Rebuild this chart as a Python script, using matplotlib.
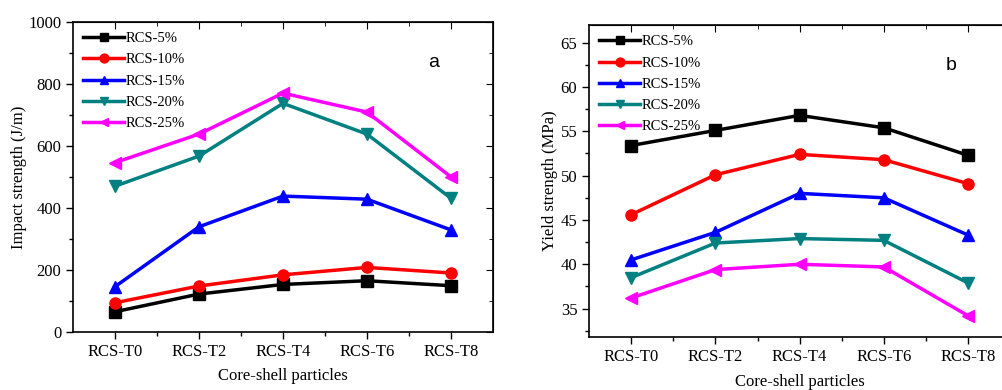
import matplotlib
matplotlib.use("Agg")
import matplotlib.pyplot as plt
from matplotlib.ticker import MultipleLocator, FixedLocator

plt.rcParams['font.family'] = ['Liberation Serif', 'DejaVu Serif']

categorias = ['RCS-T0', 'RCS-T2', 'RCS-T4', 'RCS-T6', 'RCS-T8']
series = ['RCS-5%', 'RCS-10%', 'RCS-15%', 'RCS-20%', 'RCS-25%']
cores = ['black', 'red', 'blue', '#008080', '#FF00FF']
marcadores = ['s', 'o', '^', 'v', '<']

impacto_5 = [65, 122, 153, 165, 149]
impacto_10 = [94, 148, 184, 208, 190]
impacto_15 = [146, 339, 438, 428, 329]
impacto_20 = [470, 567, 737, 638, 431]
impacto_25 = [546, 638, 770, 709, 500]

escoamento_5 = [53.4, 55.1, 56.8, 55.4, 52.3]
escoamento_10 = [45.6, 50.1, 52.4, 51.8, 49.1]
escoamento_15 = [40.5, 43.6, 48.0, 47.5, 43.3]
escoamento_20 = [38.5, 42.4, 42.9, 42.7, 37.9]
escoamento_25 = [36.2, 39.4, 40.0, 39.7, 34.2]

impacto = [impacto_5, impacto_10, impacto_15, impacto_20, impacto_25]
escoamento = [escoamento_5, escoamento_10, escoamento_15, escoamento_20, escoamento_25]

fig = plt.figure(figsize=(10.02, 3.9), dpi=100)
ax1 = fig.add_axes([0.0729, 0.149, 0.419, 0.795])
ax2 = fig.add_axes([0.588, 0.136, 0.420, 0.800])


def desenhar(ax, dados, ylim, ymaj, ymin_, ylabel, letra, ypad, xpad):
    x = list(range(len(categorias)))
    for vals, cor, m, nome in zip(dados, cores, marcadores, series):
        ax.plot(x, vals, color=cor, marker=m, markersize=8, linewidth=2.5, label=nome)
    ax.set_xlim(-0.5, 4.5)
    ax.set_ylim(*ylim)
    ax.set_xticks(x)
    ax.set_xticklabels(categorias, fontsize=12)
    ax.xaxis.set_minor_locator(FixedLocator([0.5, 1.5, 2.5, 3.5]))
    ax.yaxis.set_major_locator(MultipleLocator(ymaj))
    ax.yaxis.set_minor_locator(MultipleLocator(ymin_))
    ax.tick_params(axis='both', which='major', direction='out', length=5, width=1, labelsize=12)
    ax.tick_params(axis='both', which='minor', direction='out', length=3, width=1)
    for s in ax.spines.values():
        s.set_linewidth(1.2)
    # ticks espelhados no topo e direita
    topo = ax.secondary_xaxis('top')
    topo.set_xticks(x)
    topo.xaxis.set_minor_locator(FixedLocator([0.5, 1.5, 2.5, 3.5]))
    topo.tick_params(which='both', direction='in', labeltop=False, length=3)
    topo.tick_params(which='major', length=5)
    dir_ = ax.secondary_yaxis('right')
    dir_.yaxis.set_major_locator(MultipleLocator(ymaj))
    dir_.yaxis.set_minor_locator(MultipleLocator(ymin_))
    dir_.tick_params(which='both', direction='in', labelright=False, length=3)
    dir_.tick_params(which='major', length=5)
    ax.set_xlabel('Core-shell particles', fontsize=12, labelpad=xpad)
    ax.set_ylabel(ylabel, fontsize=12, labelpad=ypad)
    ax.legend(loc='upper left', frameon=False, fontsize=10.5, handlelength=2.8,
              handletextpad=0.1, labelspacing=0.55, borderaxespad=0.3, borderpad=0.4,
              markerscale=0.8)
    ax.text(0.86, 0.87, letra, transform=ax.transAxes, fontsize=14,
            family=['Liberation Sans', 'DejaVu Sans'], ha='center', va='center')


desenhar(ax1, impacto, (0, 1000), 200, 100, 'Impact strength (J/m)', 'a', 1, 6)
desenhar(ax2, escoamento, (31.8, 67), 5, 2.5, 'Yield strength (MPa)', 'b', 2, 7)

plt.savefig('out.png', dpi=100)
plt.close()
